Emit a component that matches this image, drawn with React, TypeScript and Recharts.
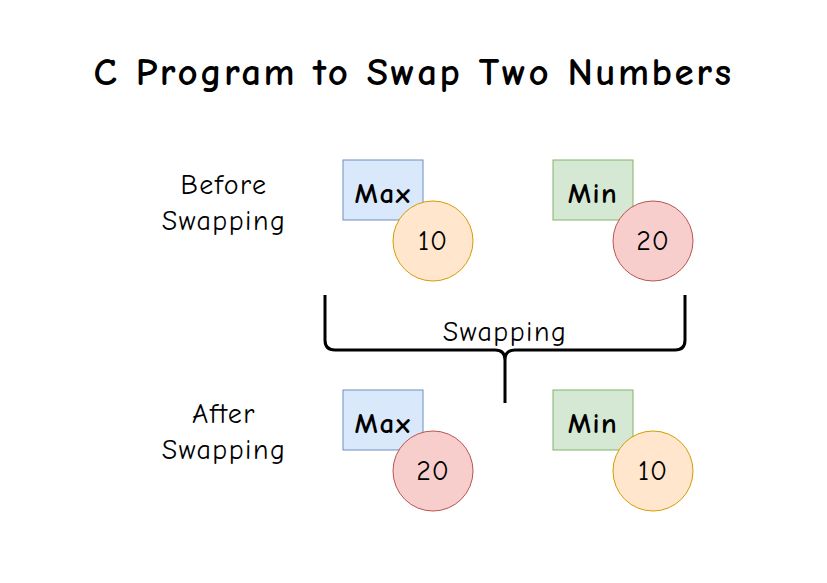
import { ScatterChart, Scatter, XAxis, YAxis } from 'recharts';

const FONT = '"Comic Sans MS", "Comic Neue", Lato, "DejaVu Sans", sans-serif';

const stateLabels = [
  { x: 224, y: 185, text: 'Before' },
  { x: 224, y: 221, text: 'Swapping' },
  { x: 224, y: 414, text: 'After' },
  { x: 224, y: 450, text: 'Swapping' },
];

const boxes = [
  { x: 383, y: 190, text: 'Max', fill: '#dae8fc', stroke: '#6c8ebf' },
  { x: 593, y: 190, text: 'Min', fill: '#d5e8d4', stroke: '#82b366' },
  { x: 383, y: 420, text: 'Max', fill: '#dae8fc', stroke: '#6c8ebf' },
  { x: 593, y: 420, text: 'Min', fill: '#d5e8d4', stroke: '#82b366' },
];

const values = [
  { x: 433, y: 241, text: '10', fill: '#ffe6cc', stroke: '#d79b00' },
  { x: 653, y: 241, text: '20', fill: '#f8cecc', stroke: '#b85450' },
  { x: 433, y: 471, text: '20', fill: '#f8cecc', stroke: '#b85450' },
  { x: 653, y: 471, text: '10', fill: '#ffe6cc', stroke: '#d79b00' },
];

const bracket = [{ x: 505, y: 350, text: 'Swapping' }];

const LabelShape = (p: any) => (
  <text x={p.cx} y={p.cy} textAnchor="middle" dominantBaseline="central" fontFamily={FONT} fontSize={28} letterSpacing={1.5} fill="#000">
    {p.payload.text}
  </text>
);

const BoxShape = (p: any) => (
  <g>
    <rect x={p.cx - 40} y={p.cy - 30} width={80} height={60} fill={p.payload.fill} stroke={p.payload.stroke} strokeWidth={1} />
    <text x={p.cx} y={p.cy + 3} textAnchor="middle" dominantBaseline="central" fontFamily={FONT} fontWeight="bold" fontSize={29} letterSpacing={1.5} fill="#000">
      {p.payload.text}
    </text>
  </g>
);

const CircleShape = (p: any) => (
  <g>
    <circle cx={p.cx} cy={p.cy} r={40} fill={p.payload.fill} stroke={p.payload.stroke} strokeWidth={1} />
    <text x={p.cx} y={p.cy} textAnchor="middle" dominantBaseline="central" fontFamily={FONT} fontSize={28} letterSpacing={1} fill="#000">
      {p.payload.text}
    </text>
  </g>
);

const BracketShape = (p: any) => {
  const { cx, cy } = p;
  const d = `M ${cx - 180} ${cy - 55} L ${cx - 180} ${cy - 10} Q ${cx - 180} ${cy} ${cx - 170} ${cy}
    L ${cx - 10} ${cy} Q ${cx} ${cy} ${cx} ${cy + 10} L ${cx} ${cy + 53}
    M ${cx} ${cy + 10} Q ${cx} ${cy} ${cx + 10} ${cy} L ${cx + 170} ${cy}
    Q ${cx + 180} ${cy} ${cx + 180} ${cy - 10} L ${cx + 180} ${cy - 55}`;
  return (
    <g>
      <path d={d} fill="none" stroke="#000" strokeWidth={3} />
      <text x={cx} y={cy - 18} textAnchor="middle" dominantBaseline="central" fontFamily={FONT} fontSize={28} letterSpacing={1.5} fill="#000">
        {p.payload.text}
      </text>
    </g>
  );
};

export default function App() {
  return (
    <div style={{ position: 'absolute', left: 0, top: 0, width: 827, height: 583, background: '#fff' }}>
      <div style={{ position: 'absolute', top: 50, width: 827, textAlign: 'center', fontFamily: FONT, fontWeight: 'bold', fontSize: 39, letterSpacing: 2.5 }}>
        C Program to Swap Two Numbers
      </div>
      <ScatterChart width={827} height={583} margin={{ top: 0, right: 0, bottom: 0, left: 0 }}>
        <XAxis type="number" dataKey="x" domain={[0, 827]} hide />
        <YAxis type="number" dataKey="y" domain={[0, 583]} reversed hide />
        <Scatter data={bracket} shape={BracketShape} isAnimationActive={false} />
        <Scatter data={stateLabels} shape={LabelShape} isAnimationActive={false} />
        <Scatter data={boxes} shape={BoxShape} isAnimationActive={false} />
        <Scatter data={values} shape={CircleShape} isAnimationActive={false} />
      </ScatterChart>
    </div>
  );
}
